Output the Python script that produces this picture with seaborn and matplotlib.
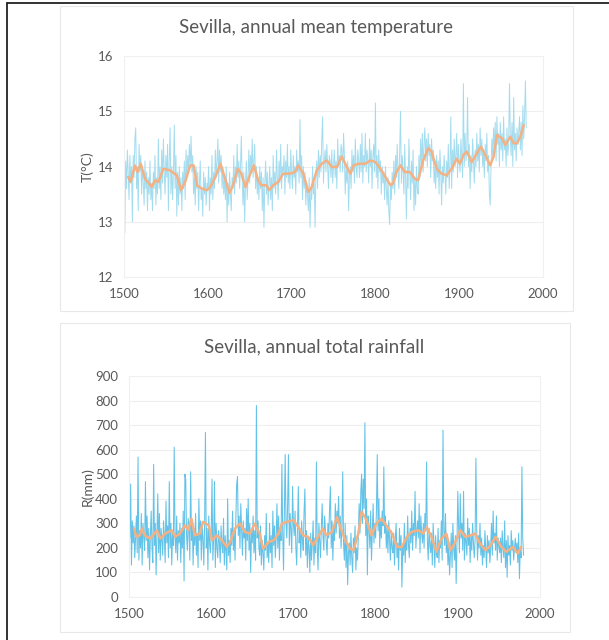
import numpy as np
import pandas as pd
import matplotlib
matplotlib.use("Agg")
import matplotlib.pyplot as plt
from matplotlib.patches import Rectangle
from matplotlib.lines import Line2D
import seaborn as sns

# --- data (1501-1980, one value per year) ---
temp_years = np.arange(1501, 1981)
temp_vals = [
    12.8, 14.1, 13.6, 14.3, 13.9, 13.4, 14.2, 13.7, 14.0, 13.0,
    14.2, 13.8, 14.5, 14.7, 13.6, 14.0, 13.2, 14.4, 13.9, 14.2,
    13.5, 14.0, 13.7, 13.3, 14.1, 13.6, 13.9, 13.2, 13.8, 13.5,
    14.1, 13.4, 13.7, 13.2, 13.9, 13.6, 14.2, 13.3, 13.8, 13.5,
    14.5, 13.6, 14.0, 13.4, 14.3, 13.7, 14.5, 13.9, 13.5, 14.2,
    13.8, 14.4, 13.2, 14.1, 14.7, 13.5, 14.0, 13.4, 13.9, 14.75,
    13.6, 14.2, 13.1, 13.9, 13.3, 14.0, 13.5, 13.8, 13.2, 13.9,
    13.6, 14.1, 13.4, 14.3, 13.8, 14.2, 13.9, 14.4, 14.0, 14.55,
    13.9, 14.2, 13.5, 13.8, 13.3, 14.0, 13.6, 13.9, 13.2, 13.7,
    14.1, 13.4, 13.6, 13.1, 13.9, 13.5, 13.8, 13.3, 13.7, 13.6,
    14.0, 13.2, 13.8, 13.5, 14.2, 13.4, 13.9, 13.6, 14.3, 13.8,
    14.1, 14.5, 13.7, 14.3, 13.9, 14.2, 13.6, 14.0, 13.5, 13.8,
    13.4, 14.0, 13.0, 13.7, 13.3, 13.9, 13.5, 13.2, 13.8, 13.6,
    14.2, 13.5, 14.0, 13.7, 14.4, 13.8, 14.1, 13.6, 14.0, 14.55,
    13.8, 13.3, 13.9, 13.0, 13.7, 14.1, 13.4, 13.8, 14.3, 13.7,
    14.2, 13.9, 14.5, 13.8, 14.1, 14.4, 13.6, 14.0, 13.5, 13.8,
    13.4, 14.0, 13.6, 13.9, 13.2, 13.8, 12.9, 13.7, 14.1, 13.5,
    13.9, 13.3, 13.7, 14.0, 13.4, 13.8, 13.2, 14.2, 13.6, 13.9,
    13.5, 14.3, 13.8, 13.4, 14.1, 13.7, 14.4, 13.6, 14.0, 13.9,
    14.2, 13.5, 14.1, 13.8, 14.4, 13.7, 14.0, 13.6, 14.3, 13.9,
    13.6, 14.2, 13.8, 14.0, 13.5, 14.3, 13.9, 14.1, 13.7, 14.85,
    13.8, 14.2, 13.4, 14.0, 13.6, 13.9, 13.3, 13.7, 13.5, 13.2,
    13.8, 12.9, 13.6, 13.4, 14.0, 13.5, 13.7, 12.9, 13.9, 14.1,
    13.6, 14.3, 13.8, 14.2, 13.9, 14.5, 14.9, 13.7, 14.1, 14.3,
    13.9, 14.4, 14.0, 13.6, 14.2, 14.1, 13.8, 14.3, 13.7, 14.0,
    14.3, 13.8, 14.1, 13.6, 14.5, 14.0, 14.2, 13.9, 14.4, 14.3,
    13.9, 14.6, 14.2, 13.5, 14.0, 13.7, 14.1, 13.2, 13.8, 14.0,
    13.6, 14.3, 13.9, 14.2, 13.7, 14.5, 14.0, 13.8, 14.3, 14.1,
    13.8, 14.4, 13.9, 14.6, 13.7, 14.2, 14.0, 14.6, 13.9, 14.3,
    14.1, 13.7, 14.5, 14.0, 14.3, 13.6, 14.2, 14.4, 13.9, 15.15,
    13.8, 14.2, 13.6, 14.3, 13.9, 14.1, 13.5, 14.0, 13.7, 13.9,
    13.4, 14.0, 13.6, 13.3, 13.8, 13.2, 12.95, 13.7, 13.4, 13.9,
    13.6, 14.1, 13.5, 14.2, 13.8, 14.4, 13.9, 13.6, 14.3, 15.0,
    13.7, 14.2, 13.9, 13.5, 14.4, 13.8, 13.05, 14.0, 13.6, 14.5,
    13.9, 13.4, 14.1, 13.7, 14.3, 13.2, 13.8, 13.3, 14.0, 13.6,
    13.5, 14.2, 13.8, 14.5, 14.0, 14.6, 13.9, 14.4, 14.7, 14.1,
    14.5, 14.0, 14.6, 14.2, 14.4, 13.8, 14.5, 14.1, 14.3, 13.7,
    14.0, 13.6, 14.2, 13.8, 14.1, 13.5, 14.3, 13.9, 13.3, 14.0,
    13.7, 14.2, 13.9, 13.5, 14.1, 13.8, 14.4, 13.6, 14.0, 14.9,
    13.6, 14.3, 13.9, 14.5, 14.0, 14.2, 14.6, 13.8, 14.4, 14.1,
    13.9, 14.5, 14.2, 13.8, 15.5, 14.0, 14.6, 14.1, 14.3, 15.25,
    14.0, 14.4, 13.6, 14.2, 13.9, 14.5, 14.1, 13.7, 14.3, 14.0,
    14.6, 14.1, 14.4, 13.9, 14.7, 14.2, 14.5, 14.0, 14.3, 13.8,
    14.4, 14.1, 14.6, 13.9, 14.2, 13.5, 13.3, 14.0, 14.5, 14.2,
    14.7, 14.3, 14.8, 14.1, 14.9, 14.4, 14.6, 14.0, 14.8, 14.3,
    14.6, 14.1, 14.9, 14.3, 14.5, 14.0, 14.7, 14.2, 14.4, 15.5,
    14.5, 14.2, 14.8, 14.0, 15.25, 14.3, 14.6, 14.1, 14.7, 14.4,
    14.6, 14.9, 14.3, 14.8, 14.2, 15.1, 14.5, 14.9, 15.55, 14.7,
]

# smoothed temperature curve (orange), read every few years
temp_smooth_years = [
    1505, 1508, 1513, 1516, 1520, 1525, 1533, 1537, 1541, 1547, 1555, 1563,
    1568, 1573, 1579, 1583, 1587, 1593, 1599, 1603, 1609, 1615, 1620, 1626,
    1630, 1636, 1640, 1645, 1650, 1655, 1660, 1664, 1670, 1673, 1678, 1684,
    1690, 1698, 1704, 1708, 1714, 1720, 1724, 1730, 1736, 1742, 1748, 1754,
    1760, 1764, 1770, 1774, 1780, 1788, 1794, 1800, 1806, 1812, 1818, 1821,
    1825, 1830, 1835, 1841, 1847, 1851, 1857, 1863, 1867, 1873, 1879, 1885,
    1891, 1897, 1901, 1905, 1909, 1915, 1921, 1926, 1931, 1937, 1941, 1945,
    1951, 1955, 1961, 1965, 1969, 1973, 1977,
]
temp_smooth = [
    13.81, 13.72, 14.02, 13.90, 14.05, 13.78, 13.63, 13.75, 13.72, 13.96, 13.93, 13.84,
    13.57, 13.72, 14.02, 14.02, 13.66, 13.60, 13.57, 13.63, 13.81, 14.05, 13.81, 13.52,
    13.66, 13.96, 13.87, 13.63, 13.84, 14.02, 13.75, 13.66, 13.66, 13.57, 13.66, 13.72,
    13.87, 13.87, 13.90, 14.02, 13.87, 13.54, 13.63, 13.93, 14.05, 14.11, 13.99, 13.99,
    14.18, 14.05, 13.87, 14.02, 14.05, 14.05, 14.11, 14.08, 13.96, 13.81, 13.66, 13.69,
    13.90, 14.02, 13.90, 13.90, 13.78, 13.75, 14.11, 14.33, 14.27, 13.96, 13.87, 13.84,
    13.96, 14.14, 14.05, 14.21, 14.27, 14.08, 14.24, 14.36, 14.21, 14.02, 14.18, 14.57,
    14.51, 14.39, 14.54, 14.42, 14.42, 14.54, 14.75,
]

rain_years = np.arange(1501, 1981)
rain_vals = [
    240, 460, 130, 310, 220, 290, 160, 250, 330, 180,
    570, 150, 270, 200, 340, 130, 300, 250, 190, 470,
    230, 330, 160, 280, 110, 250, 350, 200, 140, 540,
    210, 300, 90, 260, 420, 180, 340, 150, 280, 230,
    170, 310, 250, 140, 390, 220, 290, 160, 470, 200,
    300, 130, 260, 210, 610, 240, 180, 330, 150, 270,
    220, 300, 140, 280, 200, 350, 65, 500, 480, 250,
    190, 320, 270, 150, 510, 230, 300, 130, 280, 210,
    340, 170, 260, 120, 400, 230, 310, 150, 290, 240,
    130, 300, 670, 200, 280, 110, 330, 220, 180, 260,
    480, 150, 240, 470, 120, 300, 200, 160, 270, 220,
    140, 290, 210, 180, 320, 130, 250, 190, 110, 400,
    170, 230, 140, 280, 210, 350, 190, 260, 150, 320,
    460, 490, 250, 330, 200, 380, 270, 170, 310, 240,
    280, 150, 360, 230, 400, 190, 300, 100, 260, 220,
    330, 180, 270, 150, 780, 240, 310, 200, 170, 290,
    130, 230, 180, 110, 250, 190, 340, 160, 220, 140,
    300, 180, 250, 120, 350, 210, 290, 160, 240, 380,
    200, 330, 150, 280, 230, 540, 260, 110, 350, 580,
    300, 240, 380, 580, 210, 340, 270, 180, 450, 300,
    250, 350, 200, 130, 300, 450, 220, 280, 160, 310,
    230, 190, 350, 440, 170, 270, 120, 240, 200, 100,
    260, 150, 220, 310, 130, 240, 180, 550, 200, 110,
    300, 230, 160, 280, 380, 250, 190, 330, 270, 220,
    170, 300, 240, 360, 450, 200, 310, 150, 280, 230,
    380, 260, 350, 300, 410, 240, 330, 200, 290, 510,
    220, 150, 300, 120, 250, 50, 180, 220, 130, 260,
    160, 100, 240, 180, 290, 110, 200, 150, 250, 380,
    260, 430, 500, 300, 480, 360, 710, 250, 400, 90,
    330, 280, 200, 350, 150, 260, 380, 220, 300, 240,
    350, 580, 270, 400, 200, 320, 240, 350, 290, 530,
    260, 330, 200, 280, 180, 310, 230, 150, 270, 200,
    180, 260, 130, 240, 300, 160, 220, 110, 280, 190,
    250, 40, 210, 170, 300, 140, 240, 190, 330, 210,
    160, 280, 220, 350, 190, 300, 250, 430, 200, 270,
    310, 240, 380, 180, 330, 260, 220, 300, 200, 340,
    270, 550, 230, 150, 280, 210, 180, 260, 130, 300,
    220, 120, 250, 180, 160, 280, 140, 230, 200, 310,
    150, 680, 270, 210, 340, 180, 250, 130, 220, 90,
    170, 260, 120, 300, 200, 150, 250, 55, 220, 430,
    280, 180, 420, 240, 300, 190, 430, 150, 260, 230,
    170, 320, 210, 280, 140, 250, 190, 300, 220, 160,
    230, 565, 280, 150, 250, 200, 300, 170, 240, 130,
    210, 160, 270, 190, 120, 250, 180, 230, 140, 200,
    300, 170, 350, 220, 260, 190, 330, 150, 240, 210,
    180, 240, 140, 270, 200, 160, 310, 120, 230, 80,
    250, 170, 210, 130, 270, 190, 230, 150, 200, 240,
    180, 220, 140, 260, 75, 200, 160, 530, 240, 170,
]

rain_smooth_years = [
    1506, 1509, 1513, 1516, 1519, 1526, 1534, 1538, 1544, 1552, 1556, 1562,
    1568, 1572, 1576, 1580, 1586, 1590, 1597, 1601, 1607, 1613, 1619, 1623,
    1629, 1635, 1641, 1647, 1653, 1659, 1663, 1670, 1676, 1682, 1686, 1692,
    1700, 1706, 1712, 1718, 1724, 1730, 1736, 1740, 1747, 1753, 1757, 1763,
    1769, 1773, 1779, 1783, 1789, 1795, 1801, 1807, 1813, 1820, 1826, 1832,
    1838, 1844, 1852, 1858, 1862, 1868, 1874, 1880, 1886, 1891, 1897, 1903,
    1909, 1915, 1921, 1927, 1934, 1940, 1946, 1953, 1959, 1967, 1973, 1977,
]
rain_smooth = [
    279, 245, 251, 279, 251, 238, 272, 238, 258, 272, 245, 258,
    292, 272, 319, 251, 258, 306, 292, 231, 251, 231, 204, 224,
    279, 299, 265, 258, 299, 258, 197, 224, 231, 258, 299, 306,
    313, 285, 251, 245, 211, 245, 279, 251, 265, 326, 285, 231,
    197, 190, 258, 347, 313, 251, 299, 319, 292, 258, 204, 204,
    245, 265, 272, 258, 285, 245, 184, 238, 258, 190, 224, 272,
    245, 251, 258, 218, 190, 211, 245, 204, 184, 204, 177, 204,
]

temp_df = pd.DataFrame({"year": temp_years, "T": temp_vals})
temp_ma = pd.DataFrame({"year": temp_smooth_years, "T": temp_smooth})
rain_df = pd.DataFrame({"year": rain_years, "R": rain_vals})
rain_ma = pd.DataFrame({"year": rain_smooth_years, "R": rain_smooth})

# --- styling ---
sns.set_style("white")
plt.rcParams["font.family"] = ["Lato", "DejaVu Sans"]
txt_col = "#595959"
grid_col = "#eeeeee"
orange = "#f4b183"

fig = plt.figure(figsize=(6.09, 6.40), dpi=100)
W, H = 609, 640

def px_box(x0, y0, x1, y1):
    return [x0 / W, 1 - y1 / H, (x1 - x0) / W, (y1 - y0) / H]

# page frame lines (top and left) and the two faint chart boxes
fig.add_artist(Line2D([7 / W, 1], [1 - 3 / H, 1 - 3 / H], color="#222222", lw=1.3))
fig.add_artist(Line2D([7 / W, 7 / W], [0, 1 - 3 / H], color="#222222", lw=1.3))
for (x0, y0, x1, y1) in [(60, 6, 573, 311), (60, 323, 570, 632)]:
    b = px_box(x0, y0, x1, y1)
    fig.add_artist(Rectangle((b[0], b[1]), b[2], b[3], fill=False,
                             edgecolor="#e8e8e8", lw=0.8))

ax1 = fig.add_axes(px_box(124, 56, 543, 277))
ax2 = fig.add_axes(px_box(129, 376, 540, 597))

sns.lineplot(data=temp_df, x="year", y="T", ax=ax1, color="#a3dcef", lw=0.7)
sns.lineplot(data=temp_ma, x="year", y="T", ax=ax1, color=orange, lw=1.8)
sns.lineplot(data=rain_df, x="year", y="R", ax=ax2, color="#62c2e7", lw=0.75)
sns.lineplot(data=rain_ma, x="year", y="R", ax=ax2, color=orange, lw=1.8)

ax1.set_xlim(1500, 2000)
ax1.set_ylim(12, 16)
ax1.set_yticks([12, 13, 14, 15, 16])
ax2.set_xlim(1500, 2000)
ax2.set_ylim(0, 900)
ax2.set_yticks(range(0, 901, 100))

for ax in (ax1, ax2):
    ax.set_xticks([1500, 1600, 1700, 1800, 1900, 2000])
    ax.set_xlabel("")
    ax.set_ylabel("")
    ax.grid(axis="y", color=grid_col, lw=0.8)
    ax.set_axisbelow(True)
    for s in ax.spines.values():
        s.set_color("#f0f0f0")
        s.set_linewidth(0.8)
    ax.tick_params(length=0, labelsize=9.5, labelcolor=txt_col, pad=8)

fig.text(316 / W, 1 - 28 / H, "Sevilla, annual mean temperature", ha="center",
         va="center", fontsize=13.5, color=txt_col)
fig.text(314 / W, 1 - 347 / H, "Sevilla, annual total rainfall", ha="center",
         va="center", fontsize=13.5, color=txt_col)
fig.text(87 / W, 1 - 167 / H, "T(°C)", rotation=90, ha="center", va="center",
         fontsize=10, color=txt_col)
fig.text(87 / W, 1 - 487 / H, "R(mm)", rotation=90, ha="center", va="center",
         fontsize=10, color=txt_col)

fig.savefig("out.png", dpi=100)
